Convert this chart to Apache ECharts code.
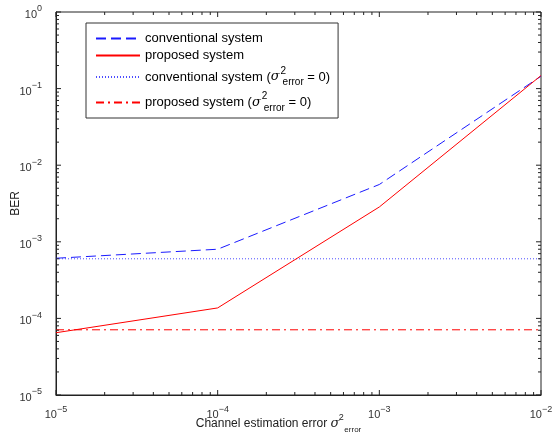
<!DOCTYPE html>
<html>
<head>
<meta charset="utf-8">
<script src="https://cdn.jsdelivr.net/npm/echarts@6/dist/echarts.min.js"></script>
<style>
html,body{margin:0;padding:0;background:#fff;}
#chart{width:552px;height:445px;}
</style>
</head>
<body>
<div id="chart"></div>
<script>
// ---- data ----
const xValues = [1e-5, 1e-4, 1e-3, 1e-2];
const conventional = [6.1e-4, 8.0e-4, 5.6e-3, 0.145];
const proposed = [6.5e-5, 1.37e-4, 2.85e-3, 0.148];
const conventionalZero = [6.0e-4, 6.0e-4, 6.0e-4, 6.0e-4];
const proposedZero = [7.1e-5, 7.1e-5, 7.1e-5, 7.1e-5];
const seriesNames = [
  'conventional system',
  'proposed system',
  'conventional system (σ2error = 0)',
  'proposed system (σ2error = 0)'
];
const xDecades = [1e-5, 1e-4, 1e-3, 1e-2];
const yDecades = [1e-5, 1e-4, 1e-3, 1e-2, 1e-1, 1];
const minorMultipliers = [2, 3, 4, 5, 6, 7, 8, 9];

const FONT = '"Liberation Sans", Arial, sans-serif';

function pairs(vals) { return xValues.map((x, i) => [x, vals[i]]); }

// tick table for the box: [x, y, kind, major]  kind 0: x tick, 1: y tick
const tickData = [];
xDecades.forEach((d, i) => {
  tickData.push([d, 1e-5, 0, 1]);
  if (i < xDecades.length - 1) minorMultipliers.forEach(m => tickData.push([d * m, 1e-5, 0, 0]));
});
yDecades.forEach((d, i) => {
  tickData.push([1e-5, d, 1, 1]);
  if (i < yDecades.length - 1) minorMultipliers.forEach(m => tickData.push([1e-5, d * m, 1, 0]));
});

function expLabel(v) {
  const e = Math.round(Math.log10(v));
  return '{b|10}{s|' + (e < 0 ? '\u2212' + (-e) : e) + '}';
}

const chart = echarts.init(document.getElementById('chart'), null, {renderer: 'canvas'});

const legendRich = {
  g: {fontFamily: 'DejaVu Serif, serif', fontStyle: 'italic', fontSize: 13, color: '#000'},
  p: {fontSize: 10, width: 0, padding: [0, 0, 12, 1], color: '#000', fontFamily: FONT},
  q: {fontSize: 10, padding: [11, 0, 0, 2], color: '#000', fontFamily: FONT},
  t: {fontSize: 13, color: '#000', fontFamily: FONT}
};

const option = {
  animation: false,
  backgroundColor: '#fff',
  grid: {left: 56, right: 11, top: 12, bottom: 50, show: true, borderColor: '#222', borderWidth: 1,
         backgroundColor: 'transparent', containLabel: false, outerBoundsMode: 'none'},
  legend: {
    orient: 'vertical',
    left: 86, top: 23,
    padding: [9, 8, 5, 9],
    itemGap: 4,
    itemWidth: 44,
    itemHeight: 12,
    borderColor: '#333',
    borderWidth: 1,
    backgroundColor: '#fff',
    data: seriesNames,
    itemStyle: {opacity: 0},
    textStyle: {fontSize: 13, fontFamily: FONT, color: '#000', rich: legendRich},
    formatter: function (name) {
      if (name === seriesNames[2]) return '{t|conventional system (}{g|σ}{p|2}{q|error}{t| = 0)}';
      if (name === seriesNames[3]) return '{t|proposed system (}{g|σ}{p|2}{q|error}{t| = 0)}';
      return name;
    }
  },
  xAxis: {
    type: 'log', logBase: 10, min: 1e-5, max: 1e-2,
    name: '{t|Channel estimation error }{g|σ}{p|2}{q|error}',
    nameLocation: 'middle', nameGap: 18, nameMoveOverlap: false,
    nameTextStyle: {
      color: '#222', fontFamily: FONT, fontSize: 12, padding: [0, 40, 0, 0],
      rich: {
        t: {fontSize: 12, fontFamily: FONT, color: '#222'},
        g: {fontFamily: 'DejaVu Serif, serif', fontStyle: 'italic', fontSize: 13, color: '#222'},
        p: {fontSize: 9, width: 0, padding: [0, 0, 13, 2], fontFamily: FONT, color: '#222'},
        q: {fontSize: 8, padding: [12, 0, 0, 3], fontFamily: FONT, color: '#222'}
      }
    },
    axisLine: {show: true, onZero: false, lineStyle: {color: '#222', width: 1}},
    axisTick: {show: false},
    splitLine: {show: false},
    axisLabel: {
      margin: 10,
      alignMinLabel: 'center',
      alignMaxLabel: 'center',
      formatter: expLabel,
      rich: {
        b: {fontSize: 11, fontFamily: FONT, color: '#333'},
        s: {fontSize: 9, fontFamily: FONT, color: '#333', padding: [0, 0, 11, 0]}
      }
    }
  },
  yAxis: {
    type: 'log', logBase: 10, min: 1e-5, max: 1,
    name: 'BER', nameLocation: 'middle', nameGap: 34, nameMoveOverlap: false,
    nameTextStyle: {color: '#222', fontFamily: FONT, fontSize: 12},
    axisLine: {show: true, onZero: false, lineStyle: {color: '#222', width: 1}},
    axisTick: {show: false},
    splitLine: {show: false},
    axisLabel: {
      margin: 14,
      formatter: expLabel,
      rich: {
        b: {fontSize: 11, fontFamily: FONT, color: '#333', padding: [6, 0, 0, 0]},
        s: {fontSize: 9, fontFamily: FONT, color: '#333', padding: [0, 0, 6, 0]}
      }
    }
  },
  series: [
    {
      name: seriesNames[0], type: 'line', data: pairs(conventional), symbol: 'none',
      lineStyle: {color: '#1a1aff', width: 1, type: [10, 5]}, itemStyle: {color: '#1a1aff'}, z: 3
    },
    {
      name: seriesNames[1], type: 'line', data: pairs(proposed), symbol: 'none',
      lineStyle: {color: '#ff0000', width: 1, type: 'solid'}, itemStyle: {color: '#ff0000'}, z: 3
    },
    {
      name: seriesNames[2], type: 'line', data: pairs(conventionalZero), symbol: 'none',
      lineStyle: {color: '#4d4dff', width: 1, type: [1, 2]}, itemStyle: {color: '#4d4dff'}, z: 2
    },
    {
      name: seriesNames[3], type: 'line', data: pairs(proposedZero), symbol: 'none',
      lineStyle: {color: '#ff0000', width: 1, type: [8, 4, 2, 4]}, itemStyle: {color: '#ff0000'}, z: 2
    },
    {
      type: 'custom', silent: true, z: 5, clip: false,
      data: tickData,
      dimensions: ['x', 'y', 'kind', 'major'],
      encode: {x: 0, y: 1},
      renderItem: function (params, api) {
        const d = tickData[params.dataIndex];
        const kind = d[2];
        const len = d[3] ? 5 : 3;
        const st = {stroke: '#222', lineWidth: 1, fill: null};
        if (kind === 0) {
          const b = api.coord([d[0], 1e-5]);
          const t = api.coord([d[0], 1]);
          return {type: 'group', children: [
            {type: 'line', shape: {x1: b[0], y1: b[1], x2: b[0], y2: b[1] - len}, style: st},
            {type: 'line', shape: {x1: t[0], y1: t[1], x2: t[0], y2: t[1] + len}, style: st}
          ]};
        } else {
          const l = api.coord([1e-5, d[1]]);
          const r = api.coord([1e-2, d[1]]);
          return {type: 'group', children: [
            {type: 'line', shape: {x1: l[0], y1: l[1], x2: l[0] + len, y2: l[1]}, style: st},
            {type: 'line', shape: {x1: r[0], y1: r[1], x2: r[0] - len, y2: r[1]}, style: st}
          ]};
        }
      }
    }
  ]
};
chart.setOption(option);
</script>
</body>
</html>
